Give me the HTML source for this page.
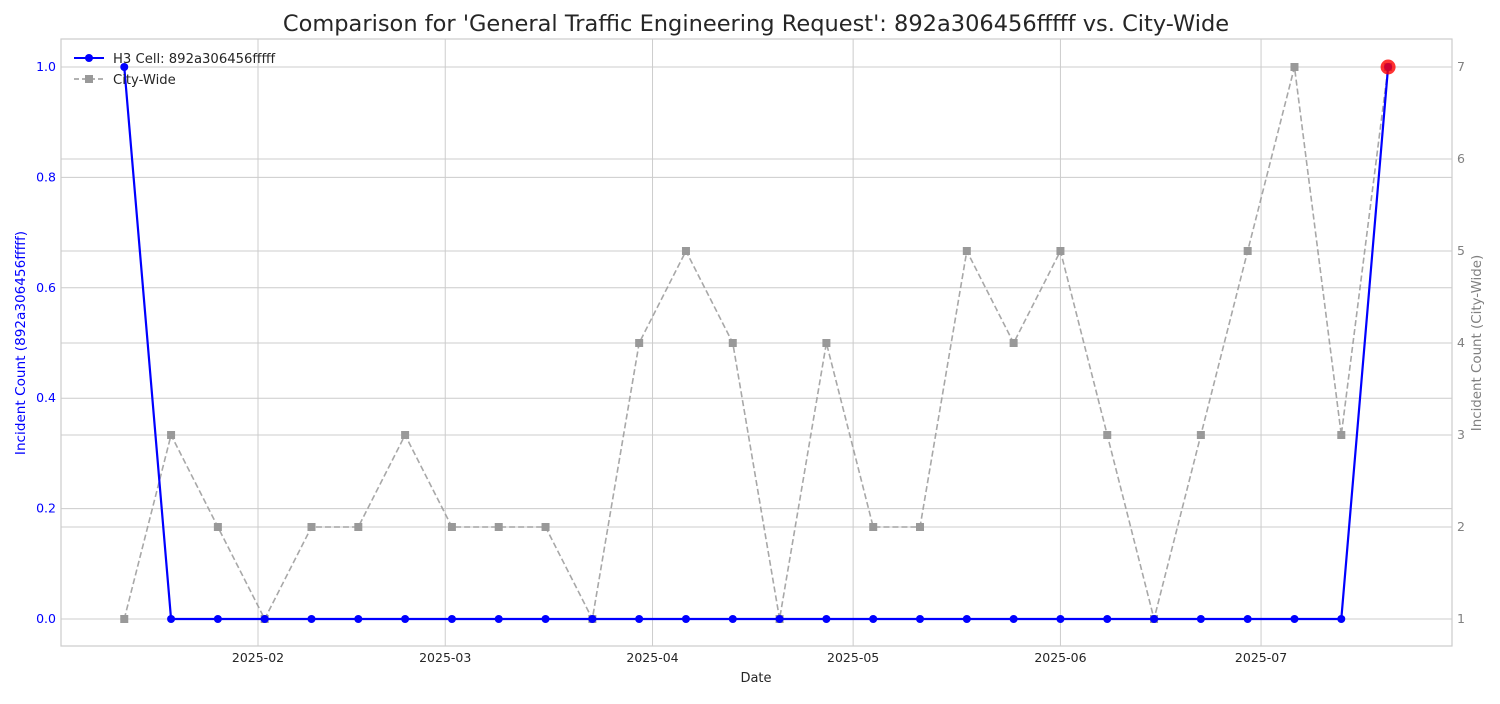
<!DOCTYPE html>
<html><head><meta charset="utf-8"><style>
body{margin:0;background:#fff;font-family:"DejaVu Sans","Liberation Sans",sans-serif;}
svg text{font-family:"DejaVu Sans","Liberation Sans",sans-serif;}
</style></head><body>
<svg id="chart" width="1500" height="700" xmlns="http://www.w3.org/2000/svg">
<rect x="0" y="0" width="1500" height="700" fill="#fff"/>
<text x="756" y="31" text-anchor="middle" font-size="22.5" fill="#262626">Comparison for 'General Traffic Engineering Request': 892a306456fffff vs. City-Wide</text>
<g id="grid"></g>
<g id="axes"></g>
<g id="series"></g>
<rect x="61" y="39" width="1391" height="607" fill="none" stroke="#ccc" stroke-width="1.2"/>
<text x="756" y="682" text-anchor="middle" font-size="13" fill="#262626">Date</text>
<text transform="translate(25,343) rotate(-90)" text-anchor="middle" font-size="13.6" fill="blue">Incident Count (892a306456fffff)</text>
<text transform="translate(1481,343) rotate(-90)" text-anchor="middle" font-size="13.4" fill="gray">Incident Count (City-Wide)</text>
<g>
<line x1="74" y1="58" x2="104" y2="58" stroke="blue" stroke-width="2"/>
<circle cx="89" cy="58" r="4" fill="blue"/>
<text x="113" y="63" font-size="13.2" fill="#262626">H3 Cell: 892a306456fffff</text>
<line x1="74" y1="79" x2="104" y2="79" stroke="#999" stroke-width="1.5" stroke-dasharray="5,3"/>
<rect x="85" y="75" width="8" height="8" fill="#999"/>
<text x="113" y="84" font-size="13.2" fill="#262626">City-Wide</text>
</g>
</svg>
<script>
const startDate = "2025-01-12";
const cityValues = [1,3,2,1,2,2,3,2,2,2,1,4,5,4,1,4,2,2,5,4,5,3,1,3,5,7,3,7];
const cellValues = [1,0,0,0,0,0,0,0,0,0,0,0,0,0,0,0,0,0,0,0,0,0,0,0,0,0,0,1];
const leftTicks = [0,0.2,0.4,0.6,0.8,1.0];
const rightTicks = [1,2,3,4,5,6,7];
const xTickLabels = ["2025-02","2025-03","2025-04","2025-05","2025-06","2025-07"];

const NS="http://www.w3.org/2000/svg";
const day0=Date.UTC(2025,0,1);
function dayOf(s){const p=s.split("-").map(Number);return (Date.UTC(p[0],p[1]-1,p[2]||1)-day0)/86400000;}
const xScale=d=>50.7+d*6.687;
const yLeft=v=>619-v*552;
const yRight=v=>619-(v-1)*92;
function mk(tag,attrs,parent,text){const e=document.createElementNS(NS,tag);for(const k in attrs)e.setAttribute(k,attrs[k]);if(text!==undefined)e.textContent=text;document.getElementById(parent).appendChild(e);return e;}
const s0=dayOf(startDate);
const xs=cityValues.map((_,i)=>xScale(s0+i*7));

xTickLabels.forEach(l=>{const x=xScale(dayOf(l));
 const g=mk("line",{x1:x,x2:x,y1:39,y2:646,stroke:"#ccc","stroke-width":1},"grid");
 
 
 const t=mk("text",{x:x,y:662,"text-anchor":"middle","font-size":12.5,fill:"#262626"},"axes",l);
 
 
});
leftTicks.forEach(v=>{const y=yLeft(v);
 const g=mk("line",{x1:61,x2:1452,y1:y,y2:y,stroke:"#ccc","stroke-width":1},"grid");
 
 
 const t=mk("text",{x:56,y:y+4,"text-anchor":"end","font-size":12.5,fill:"blue"},"axes",v.toFixed(1));
 
 
});
rightTicks.forEach(v=>{const y=yRight(v);
 const g=mk("line",{x1:61,x2:1452,y1:y,y2:y,stroke:"#ccc","stroke-width":1},"grid");
 
 
 const t=mk("text",{x:1457,y:y+4,"text-anchor":"start","font-size":12.5,fill:"gray"},"axes",String(v));
 
 
});

const cp=mk("polyline",{points:xs.map((x,i)=>x+","+yRight(cityValues[i])).join(" "),fill:"none",stroke:"#999","stroke-opacity":0.85,"stroke-width":1.6,"stroke-dasharray":"6,3"},"series");


cityValues.forEach((v,i)=>{const r=mk("rect",{x:xs[i]-4,y:yRight(v)-4,width:8,height:8,fill:"#999"},"series");
 
 });
const hp=mk("polyline",{points:xs.map((x,i)=>x+","+yLeft(cellValues[i])).join(" "),fill:"none",stroke:"blue","stroke-width":2.2},"series");


cellValues.forEach((v,i)=>{const c=mk("circle",{cx:xs[i],cy:yLeft(v),r:4,fill:"blue"},"series");
 
 });
const li=cellValues.length-1;
const hl=mk("circle",{cx:xs[li],cy:yLeft(cellValues[li]),r:7.5,fill:"red","fill-opacity":0.8},"series");


</script>
</body></html>
